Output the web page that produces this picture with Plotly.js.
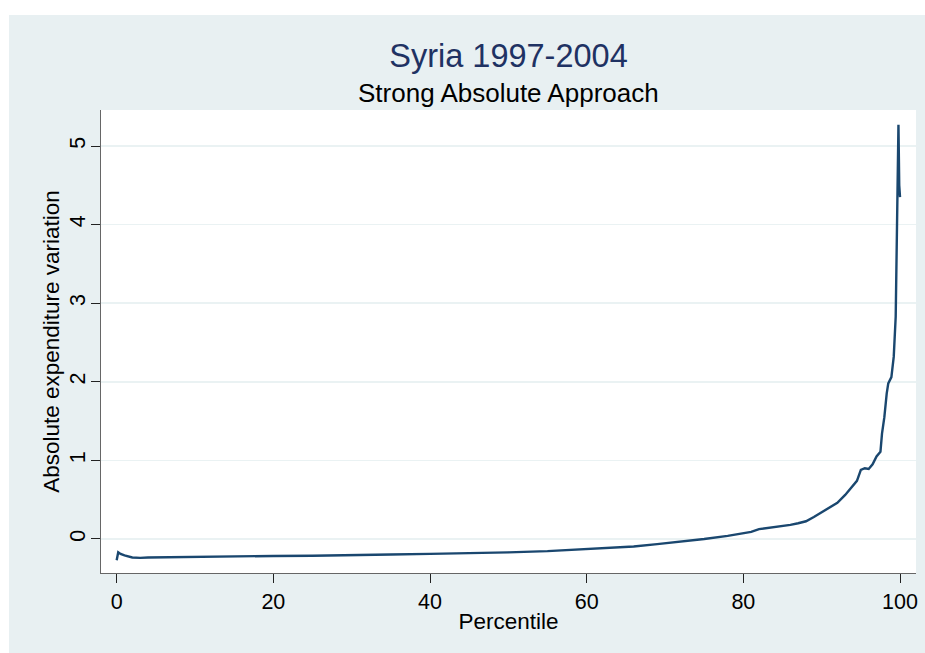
<!DOCTYPE html>
<html>
<head>
<meta charset="utf-8">
<script src="https://cdn.plot.ly/plotly-3.0.1.min.js"></script>
<style>html,body{margin:0;padding:0;background:#fff;}#chart{width:925px;height:653px;}</style>
</head>
<body>
<div id="chart"></div>
<script>
const titleText = "Syria 1997-2004";
const subtitleText = "Strong Absolute Approach";
const xTitle = "Percentile";
const yTitle = "Absolute expenditure variation";
const xTickVals = [0, 20, 40, 60, 80, 100];
const yTickVals = [0, 1, 2, 3, 4, 5];

const percentile = [0, 0.2, 0.5, 1, 2, 3, 4, 6, 8, 10, 12, 15, 20, 25, 30, 35, 40, 45, 50, 55,
  60, 63, 66, 69, 72, 75, 78, 80, 81, 82, 84, 86, 87, 88, 89, 90, 91, 92, 93, 94,
  94.5, 95, 95.5, 96, 96.5, 97, 97.5, 97.7, 98, 98.3, 98.5, 98.9, 99.2, 99.45, 99.6, 99.8, 99.9, 100];
const variation = [-0.27, -0.17, -0.19, -0.21, -0.235, -0.24, -0.235, -0.232, -0.23, -0.228, -0.222, -0.22, -0.216, -0.213, -0.21, -0.198, -0.19, -0.182, -0.17, -0.155,
  -0.13, -0.115, -0.095, -0.065, -0.035, 0.0, 0.04, 0.07, 0.09, 0.125, 0.15, 0.18, 0.2, 0.225, 0.28, 0.34, 0.39, 0.46, 0.56, 0.68,
  0.74, 0.88, 0.9, 0.89, 0.95, 1.05, 1.11, 1.34, 1.55, 1.85, 1.98, 2.06, 2.32, 2.83, 3.9, 5.27, 4.5, 4.35];

const FONT = "Liberation Sans, Arial, sans-serif";
const BG = "#e8f0f2";

const trace = {
  x: percentile, y: variation, type: "scatter", mode: "lines",
  line: {color: "#1a476f", width: 2.4}, hoverinfo: "skip"
};

const layout = {
  width: 925, height: 653,
  margin: {l: 101, r: 9, t: 110, b: 80, pad: 0},
  paper_bgcolor: "#ffffff",
  plot_bgcolor: "#ffffff",
  showlegend: false,
  font: {family: FONT, color: "#000000"},
  title: {
    text: titleText, font: {family: FONT, size: 32.5, color: "#1f3263"},
    xref: "paper", x: 0.5, xanchor: "center",
    yref: "container", y: 1 - 56/653, yanchor: "middle"
  },
  annotations: [{
    text: subtitleText, showarrow: false, font: {family: FONT, size: 26, color: "#000000"},
    xref: "paper", x: 0.5, xanchor: "center",
    yref: "paper", y: 1 + (110 - 92.5)/463, yanchor: "middle"
  }],
  shapes: [
    {type: "rect", xref: "paper", yref: "paper", x0: (9-101)/815, x1: (925-101)/815, y0: -80/463, y1: 1 + 95/463,
     fillcolor: BG, line: {width: 0}, layer: "below"},
    {type: "rect", xref: "paper", yref: "paper", x0: 0, x1: 1, y0: 0, y1: 1,
     fillcolor: "#ffffff", line: {width: 0}, layer: "below"}
  ],
  xaxis: {
    range: [-2.0, 102.04], tickvals: xTickVals, ticktext: xTickVals.map(String),
    ticks: "outside", ticklen: 9, tickwidth: 1, tickcolor: "#222",
    showline: true, linecolor: "#666", linewidth: 1.3,
    showgrid: false, zeroline: false,
    tickfont: {family: FONT, size: 21.5, color: "#000"},
    title: {text: xTitle, font: {family: FONT, size: 22.5, color: "#000"}, standoff: 0},
    automargin: false
  },
  yaxis: {
    range: [-0.433, 5.458], tickvals: yTickVals, ticktext: yTickVals.map(String),
    tickangle: -90, ticklabelstandoff: -3,
    ticks: "outside", ticklen: 9, tickwidth: 1, tickcolor: "#222",
    showline: true, linecolor: "#666", linewidth: 1.3,
    showgrid: true, gridcolor: "#eaf2f3", gridwidth: 1.6, zeroline: false,
    tickfont: {family: FONT, size: 21.5, color: "#000"},
    title: {text: yTitle, font: {family: FONT, size: 22.5, color: "#000"}, standoff: 0},
    automargin: false
  }
};

Plotly.newPlot("chart", [trace], layout, {staticPlot: true, displayModeBar: false});
</script>
</body>
</html>
